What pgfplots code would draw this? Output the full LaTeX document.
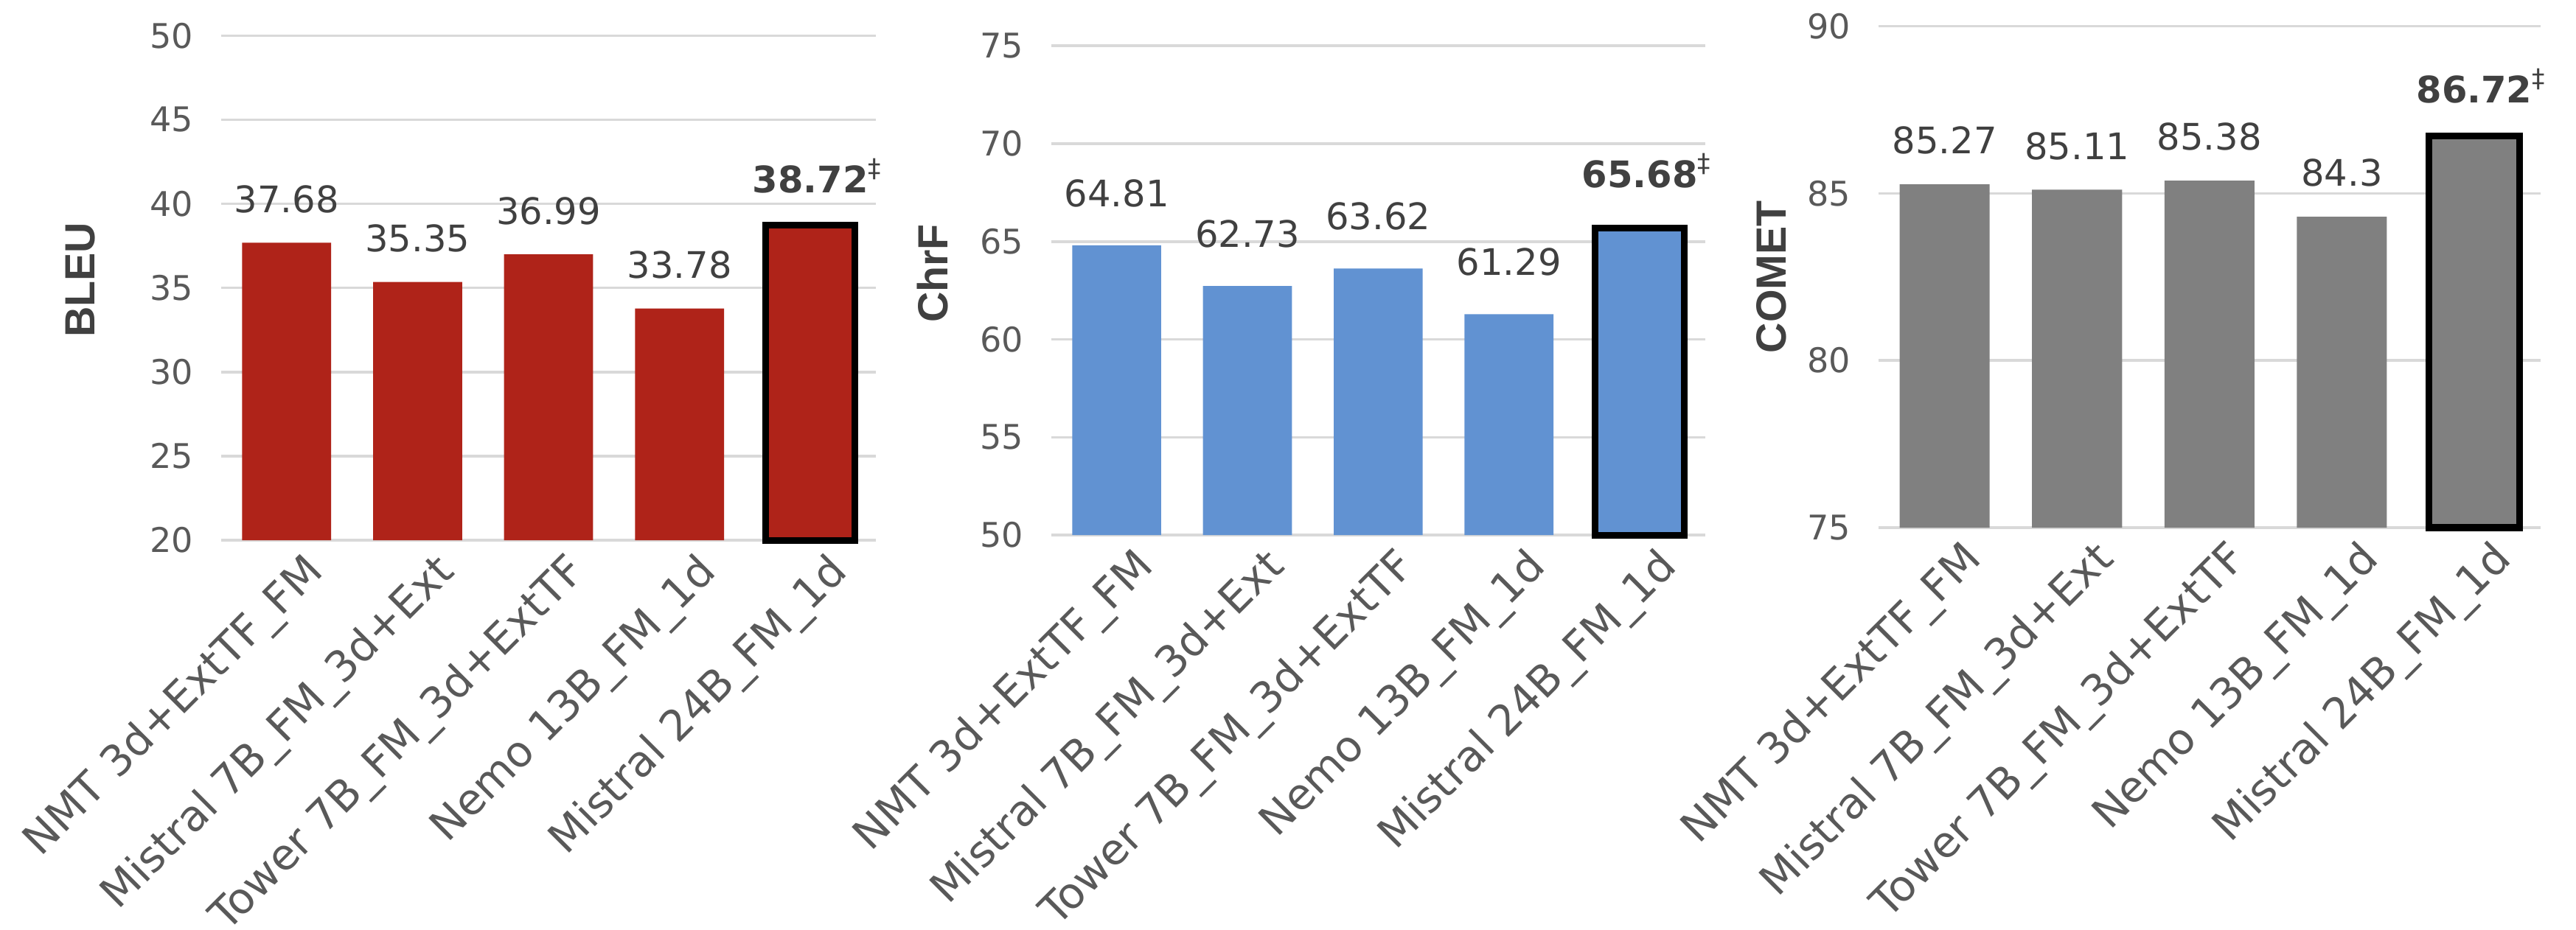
\documentclass[border=0pt]{standalone}
\usepackage{fontspec}
\setmainfont{DejaVu Sans}
\newfontfamily\axlabfont{Liberation Sans}
\usepackage{pgfplots}
\pgfplotsset{compat=1.18}

\definecolor{barred}{RGB}{175,35,25}
\definecolor{barblue}{RGB}{97,146,210}
\definecolor{bargray}{RGB}{128,128,128}
\definecolor{gridgray}{RGB}{217,217,217}
\definecolor{textgray}{RGB}{89,89,89}
\definecolor{labelgray}{RGB}{64,64,64}

\pgfplotsset{
  mybar/.style={
    scale only axis, anchor=south west,
    xmin=-0.5, xmax=4.5,
    xtick={0,1,2,3,4},
    xticklabels={NMT 3d+ExtTF\_FM, Mistral 7B\_FM\_3d+Ext, Tower 7B\_FM\_3d+ExtTF, Nemo 13B\_FM\_1d, Mistral 24B\_FM\_1d},
    xticklabel style={font=\fontsize{8.3}{9}\selectfont, text=textgray, inner sep=0pt, xshift=3pt, yshift=-1.7pt, rotate=45, anchor=north east},
    yticklabel style={font=\fontsize{6.6}{7}\selectfont, text=textgray, inner sep=0pt, xshift=-5.2pt},
    axis line style={draw=none},
    major tick length=0pt,
    ymajorgrids, grid style={draw=gridgray, line width=0.5pt},
    ylabel style={font=\axlabfont\bfseries\fontsize{8.2}{9}\selectfont, text=labelgray, anchor=center},
    ybar, bar width=0.68, bar shift=0pt,
    clip=false,
    point meta=explicit symbolic,
    nodes near coords,
    every node near coord/.append style={font=\fontsize{7.1}{8}\selectfont, text=labelgray, inner sep=0pt},
  },
}

\begin{document}
\begin{tikzpicture}
\useasboundingbox (0,0) rectangle (500pt,180.46pt);

% BLEU
\begin{axis}[mybar, at={(42.93pt,75.56pt)}, width=127.1pt, height=98pt,
  ymin=20, ymax=50, ytick={20,25,30,35,40,45,50}, yticklabels={20,25,30,35,40,45,50},
  y coord trafo/.code={\pgfmathparse{#1-20}},
  ylabel={BLEU}, ylabel style={at={(axis description cs:-0.215,0.516)}},
  every node near coord/.append style={yshift=5.6pt}]
\addplot[fill=barred, draw=none] coordinates {(0,37.68) [37.68] (1,35.35) [35.35] (2,36.99) [36.99] (3,33.78) [33.78]};
\addplot[fill=barred, draw=black, line width=1.3pt] coordinates {(4,38.72) [\textbf{38.72}\rlap{\smash{\textsuperscript{‡}}}]};
\end{axis}

% ChrF
\begin{axis}[mybar, at={(204.06pt,76.56pt)}, width=126.9pt, height=95pt,
  ymin=50, ymax=75, ytick={50,55,60,65,70,75}, yticklabels={50,55,60,65,70,75},
  y coord trafo/.code={\pgfmathparse{#1-50}},
  ylabel={ChrF}, ylabel style={at={(axis description cs:-0.1815,0.535)}},
  every node near coord/.append style={yshift=7.2pt}]
\addplot[fill=barblue, draw=none] coordinates {(0,64.81) [64.81] (1,62.73) [62.73] (2,63.62) [63.62] (3,61.29) [61.29]};
\addplot[fill=barblue, draw=black, line width=1.3pt] coordinates {(4,65.68) [\textbf{65.68}\rlap{\smash{\textsuperscript{‡}}}]};
\end{axis}

% COMET
\begin{axis}[mybar, at={(364.6pt,78.0pt)}, width=128.5pt, height=97.4pt,
  ymin=75, ymax=90, ytick={75,80,85,90}, yticklabels={75,80,85,90},
  y coord trafo/.code={\pgfmathparse{#1-75}},
  ylabel={COMET}, ylabel style={at={(axis description cs:-0.1615,0.5)}},
  every node near coord/.append style={yshift=5.6pt}]
\addplot[fill=bargray, draw=none] coordinates {(0,85.27) [85.27] (1,85.11) [85.11] (2,85.38) [85.38] (3,84.3) [84.3]};
\addplot[fill=bargray, draw=black, line width=1.3pt] coordinates {(4,86.72) [\textbf{86.72}\rlap{\smash{\textsuperscript{‡}}}]};
\end{axis}
\end{tikzpicture}
\end{document}
